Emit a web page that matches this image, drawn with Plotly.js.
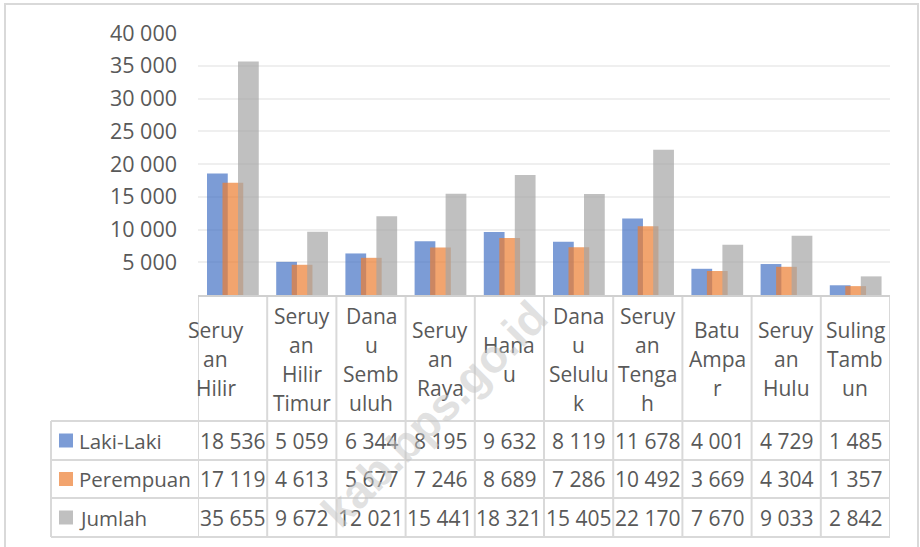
<!DOCTYPE html>
<html>
<head>
<meta charset="utf-8">
<script src="https://cdn.plot.ly/plotly-3.0.1.min.js"></script>
<style>html,body{margin:0;padding:0;background:#fff;}#chart{width:920px;height:547px;}</style>
</head>
<body>
<div id="chart"></div>
<script>
// ---- data ----
const categories = ["Seruyan Hilir","Seruyan Hilir Timur","Danau Sembuluh","Seruyan Raya","Hanau","Danau Seluluk","Seruyan Tengah","Batu Ampar","Seruyan Hulu","Suling Tambun"];
const headerLabels = ["Seruy<br>an<br>Hilir","Seruy<br>an<br>Hilir<br>Timur","Dana<br>u<br>Semb<br>uluh","Seruy<br>an<br>Raya","Hana<br>u","Dana<br>u<br>Selulu<br>k","Seruy<br>an<br>Tenga<br>h","Batu<br>Ampa<br>r","Seruy<br>an<br>Hulu","Suling<br>Tamb<br>un"];
const lakiLaki  = [18536,5059,6344,8195,9632,8119,11678,4001,4729,1485];
const perempuan = [17119,4613,5677,7246,8689,7286,10492,3669,4304,1357];
const jumlah    = [35655,9672,12021,15441,18321,15405,22170,7670,9033,2842];
const seriesNames = ["Laki-Laki","Perempuan","Jumlah"];
const yTickVals = [5000,10000,15000,20000,25000,30000,35000,40000];
const watermarkText = "kab.bps.go.id";

// ---- styling / geometry ----
const FONT = "Open Sans";
const FS = 21;
const TXT = "#595959";
const LINE = "#D9D9D9";
const colors = ["#4472C4","#ED7D31","#A5A5A5"];
const L = 198, W = 692, T = 33, H = 262;
const PX = x => (x - L) / W;
const PY = y => (T + H - y) / H;
const fmt = v => String(v).replace(/\B(?=(\d{3})+(?!\d))/g, " ");

const seriesVals = [lakiLaki, perempuan, jumlah];
const offsets = [-0.37, -0.146, 0.078];
const traces = seriesVals.map((vals, k) => ({
  type: "bar",
  name: seriesNames[k],
  x: categories,
  y: vals,
  width: 0.30,
  offset: offsets[k],
  marker: {color: colors[k], opacity: 0.7},
  hoverinfo: "x+y+name"
}));

// table geometry (pixels)
const headTop = 297, headBot = 421;
const rowLines = [421, 460, 498, 537];
const firstColLeft = 51;
const lineGap = 29;

const shapes = [];
const annotations = [];

rowLines.forEach(y => shapes.push({type:"line", xref:"paper", yref:"paper",
  x0: PX(firstColLeft), x1: 1, y0: PY(y), y1: PY(y), line:{color:LINE, width:2}}));
for (let i = 0; i <= categories.length; i++) {
  shapes.push({type:"line", xref:"x", yref:"paper", x0: i - 0.5, x1: i - 0.5,
    y0: PY(headTop), y1: PY(rowLines[3]), line:{color:LINE, width:2}});
}
shapes.push({type:"line", xref:"paper", yref:"paper", x0: PX(firstColLeft), x1: PX(firstColLeft),
  y0: PY(rowLines[0]), y1: PY(rowLines[3]), line:{color:LINE, width:2}});
shapes.push({type:"rect", xref:"paper", yref:"paper", x0: PX(5), x1: PX(918), y0: PY(560), y1: PY(4),
  line:{color:LINE, width:2}, layer:"below"});

// header (category) labels, one annotation per line
headerLabels.forEach((t, i) => {
  const lines = t.split("<br>");
  const yMid = (headTop + headBot) / 2;
  lines.forEach((ln, j) => {
    const yc = yMid + (j - (lines.length - 1) / 2) * lineGap;
    annotations.push({xref:"x", yref:"paper", x: i, y: PY(yc), text: ln, showarrow:false,
      xanchor:"center", yanchor:"middle", xshift: i === 0 ? -17 : 0,
      font:{family:FONT, size:FS, color:TXT}});
  });
});

// data rows
seriesVals.forEach((vals, k) => {
  const yc = (rowLines[k] + rowLines[k + 1]) / 2;
  vals.forEach((v, i) => annotations.push({xref:"x", yref:"paper", x: i, y: PY(yc), text: fmt(v),
    showarrow:false, xanchor:"center", yanchor:"middle", font:{family:FONT, size:FS, color:TXT}}));
  shapes.push({type:"rect", xref:"paper", yref:"paper", x0: PX(59), x1: PX(73), y0: PY(yc - 7), y1: PY(yc + 7),
    fillcolor: colors[k], opacity: 0.7, line:{width:0}});
  annotations.push({xref:"paper", yref:"paper", x: PX(77), y: PY(yc), text: seriesNames[k],
    showarrow:false, xanchor:"left", yanchor:"middle", font:{family:FONT, size:FS - 0.5, color:TXT}});
});

// watermark
annotations.push({xref:"paper", yref:"paper", x: PX(434), y: PY(414), xanchor:"center", yanchor:"middle",
  text: watermarkText, showarrow:false, textangle:-45,
  font:{family:"Liberation Sans", size:46, color:"rgba(195,195,195,0.5)", weight:"bold"}});

const layout = {
  width: 920, height: 547,
  margin: {l: L, r: 920 - L - W, t: T, b: 547 - T - H, pad: 0},
  paper_bgcolor: "#ffffff", plot_bgcolor: "#ffffff",
  barmode: "overlay",
  showlegend: false,
  separators: ", ",
  font: {family: FONT, color: TXT},
  xaxis: {type:"category", range:[-0.5, 9.5], showticklabels:false, showgrid:false, zeroline:false,
    showline:true, linecolor:"#D0D0D0", linewidth:2, ticks:"", fixedrange:true},
  yaxis: {range:[0, 40000], tickvals: yTickVals, tickformat:",d", showgrid:true, gridcolor:"#EFEFEF", gridwidth:2,
    zeroline:false, showline:false, ticks:"", ticklabelstandoff: 20,
    tickfont:{family:FONT, size:21.5, color:TXT}, fixedrange:true},
  shapes: shapes,
  annotations: annotations
};

Plotly.newPlot("chart", traces, layout, {displayModeBar:false, staticPlot:true});
</script>
</body>
</html>
